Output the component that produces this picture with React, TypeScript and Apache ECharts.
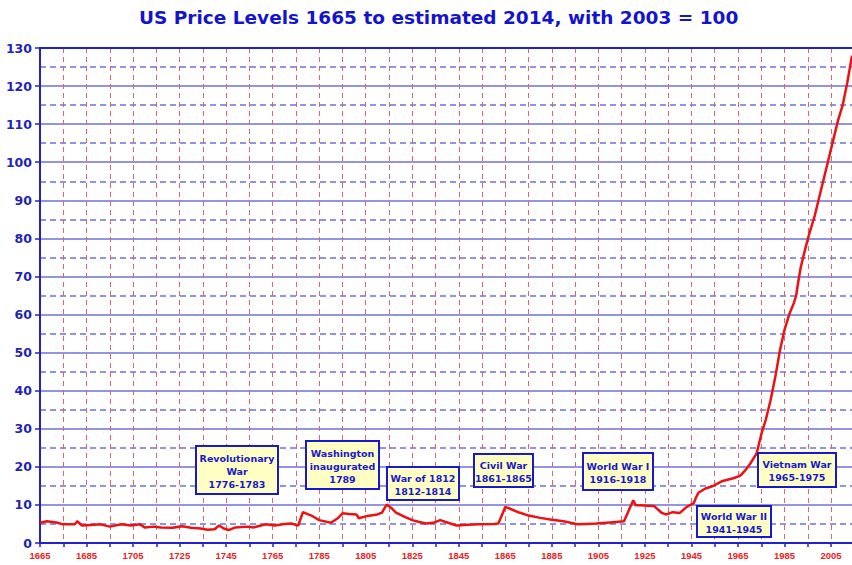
import React, { useEffect, useRef } from "react";
import * as echarts from "echarts";

const years = [
  1665, 1668, 1672, 1675, 1680, 1681, 1683, 1687, 1691, 1695, 1700, 1704, 1708, 1710, 1714, 1717,
  1722, 1726, 1730, 1734, 1737, 1740, 1742, 1744, 1746, 1749, 1754, 1757, 1760, 1762, 1766, 1770,
  1773, 1776, 1778, 1780, 1782, 1785, 1790, 1793, 1795, 1798, 1801, 1802, 1805, 1810, 1812, 1814,
  1816, 1818, 1822, 1825, 1828, 1831, 1834, 1837, 1840, 1844, 1849, 1854, 1860, 1862, 1864, 1865,
  1867, 1871, 1875, 1880, 1885, 1890, 1896, 1900, 1904, 1910, 1916, 1918, 1920, 1921, 1923, 1926,
  1929, 1932, 1934, 1937, 1940, 1943, 1946, 1947, 1948, 1951, 1954, 1958, 1963, 1966, 1968, 1970,
  1973, 1975, 1977, 1979, 1981, 1983, 1985, 1987, 1989, 1990, 1991, 1992, 1994, 1996, 1998, 2000,
  2002, 2004, 2006, 2008, 2010, 2012, 2014,
];
const priceLevels = [
  5.3, 5.7, 5.4, 4.9, 4.9, 5.7, 4.6, 4.7, 4.9, 4.3, 4.9, 4.6, 4.9, 4.1, 4.3, 4.1,
  4.0, 4.4, 4.0, 3.8, 3.5, 3.6, 4.6, 3.8, 3.4, 4.1, 4.3, 4.1, 4.6, 4.9, 4.6, 5.0,
  5.1, 4.6, 8.1, 7.6, 7.1, 6.0, 5.3, 6.5, 7.8, 7.6, 7.5, 6.5, 7.0, 7.5, 8.0, 10.1,
  9.2, 8.0, 6.8, 6.0, 5.5, 5.1, 5.3, 6.0, 5.4, 4.6, 4.8, 4.9, 5.0, 5.1, 8.0, 9.5,
  9.0, 8.0, 7.2, 6.6, 6.1, 5.7, 4.9, 5.0, 5.1, 5.4, 5.7, 8.5, 11.2, 9.9, 9.9, 9.8,
  9.7, 8.0, 7.5, 8.1, 7.9, 9.5, 10.5, 12.0, 13.2, 14.3, 14.9, 16.2, 17.0, 17.7, 19.0, 20.6,
  23.5, 28.5, 32.5, 37.5, 43.5, 50.5, 56.0, 60.0, 63.0, 65.0, 69.0, 72.5, 77.5, 82.0, 86.0, 91.0,
  96.0, 101.0, 106.0, 111.0, 115.0, 121.0, 128.0,
];

const startYear = 1665;
const endYear = 2014;
const labelStep = 20;

const annotationTexts = [
  "Revolutionary\nWar\n1776-1783",
  "Washington\ninaugurated\n1789",
  "War of 1812\n1812-1814",
  "Civil War\n1861-1865",
  "World War I\n1916-1918",
  "World War II\n1941-1945",
  "Vietnam War\n1965-1975",
];
// box layout [x, y, w, h]
const annotationBoxes = [
  [196, 446, 82, 48],
  [306, 441, 73, 48],
  [387, 467, 72, 33],
  [474, 454, 59, 33],
  [583, 453, 70, 37],
  [697, 506, 74, 31],
  [758, 453, 78, 34],
];

const FONT = "'Liberation Sans', Arial, Helvetica, sans-serif";
const WIDE = "'DejaVu Sans', 'Liberation Sans', Arial, sans-serif";

export default function App() {
  const ref = useRef<HTMLDivElement>(null);
  useEffect(() => {
    document.body.style.margin = "0";
    const chart = echarts.init(ref.current!, null, { renderer: "svg" });
    const data = years.map((y, i) => [y - startYear, priceLevels[i]]);
    const graphics = annotationTexts.map((t, i) => {
      const [x, y, w, h] = annotationBoxes[i];
      return {
        type: "group",
        x,
        y,
        z: 100,
        children: [
          {
            type: "rect",
            z: 100,
            shape: { x: 0, y: 0, width: w, height: h },
            style: { fill: "#ffffc4", stroke: "#1818cc", lineWidth: 2 },
          },
          {
            type: "text",
            z: 101,
            x: w / 2,
            y: h / 2 + 1,
            style: {
              text: t,
              align: "center",
              verticalAlign: "middle",
              font: `bold 9.5px ${WIDE}`,
              lineHeight: 13,
              fill: "#1818cc",
            },
          },
        ],
      };
    });
    chart.setOption({
      animation: false,
      backgroundColor: "#ffffff",
      title: {
        text: "US Price Levels 1665 to estimated 2014, with 2003 = 100",
        left: 134,
        top: 3,
        textStyle: { fontSize: 18.5, fontWeight: "bold", color: "#1414cc", fontFamily: WIDE },
      },
      grid: { left: 40, right: 0, top: 48, bottom: 22, containLabel: false },
      xAxis: [
        {
          type: "value",
          min: 0,
          max: endYear - startYear,
          interval: 10,
          axisLine: { show: true, lineStyle: { color: "#2222cc", width: 2 } },
          axisTick: { show: true, length: 4, lineStyle: { color: "#2222cc", width: 1.5 } },
          axisLabel: {
            show: true,
            margin: 7,
            fontSize: 9.5,
            fontWeight: "bold",
            fontFamily: FONT,
            color: "#ee2020",
            showMaxLabel: false,
            formatter: (v: number) => (v % labelStep === 0 ? String(v + startYear) : ""),
          },
          splitLine: { show: true, lineStyle: { color: "#e26464", width: 1, type: [5, 4] } },
        },
        {
          type: "value",
          position: "top",
          min: 0,
          max: endYear - startYear,
          axisLine: { show: true, lineStyle: { color: "#2222cc", width: 2 } },
          axisTick: { show: false },
          axisLabel: { show: false },
          splitLine: { show: false },
        },
      ],
      yAxis: {
        type: "value",
        min: 0,
        max: 130,
        interval: 10,
        axisLine: { show: true, lineStyle: { color: "#2222cc", width: 2 } },
        axisTick: { show: true, length: 5, lineStyle: { color: "#2222cc", width: 1.5 } },
        axisLabel: {
          margin: 8,
          fontSize: 12.5,
          fontWeight: "bold",
          fontFamily: WIDE,
          color: "#2424b4",
        },
        splitLine: { show: true, lineStyle: { color: "#7070dd", width: 1.5 } },
        minorTick: { show: false, splitNumber: 2 },
        minorSplitLine: { show: true, lineStyle: { color: "#7070dd", width: 1.5, type: [6, 4] } },
      },
      series: [
        {
          type: "line",
          data,
          showSymbol: false,
          symbol: "none",
          lineStyle: { color: "#ee1111", width: 2.5 },
          z: 5,
        },
      ],
      graphic: graphics,
    });
    return () => chart.dispose();
  }, []);
  return <div ref={ref} style={{ width: 852, height: 565 }} />;
}
